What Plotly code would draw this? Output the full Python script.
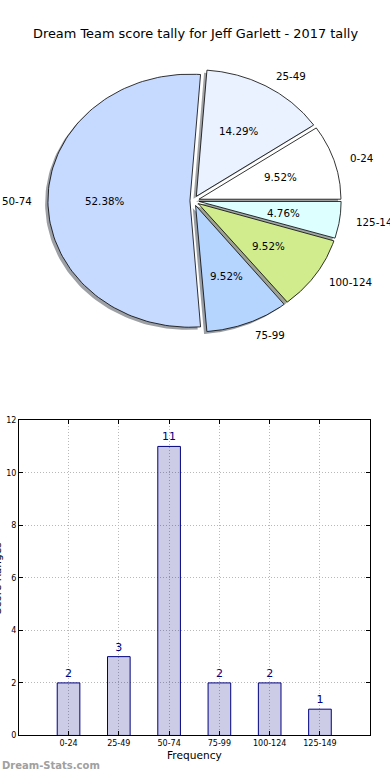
import numpy as np
import plotly.graph_objects as go

# ---------------- data ----------------
categories = ["0-24", "25-49", "50-74", "75-99", "100-124", "125-149"]
counts = [2, 3, 11, 2, 2, 1]
pie_colors = ["#FFFFFF", "#EAF1FF", "#C6D9FF", "#B5D5FF", "#D0EC8C", "#DDFFFF"]
y_ticks = [0, 2, 4, 6, 8, 10, 12]
title_text = "Dream Team score tally for Jeff Garlett - 2017 tally"

# ---------------- style constants ----------------
W, H = 390, 780
FONT = "DejaVu Sans"
explode = [0.04, 0.04, 0.025, 0.04, 0.04, 0.04]
RX, RY = 142.0, 128.0          # pie radius in px (elliptical, as in source)
CXP, CYP = 193.5, 199.0        # pie centre in px
PIE_H = 390.0                  # pie panel height in px

fig = go.Figure()

# ---------------- pie (drawn as filled wedges) ----------------
total = float(sum(counts))
fracs = [c / total for c in counts]
cum = np.concatenate([[0.0], np.cumsum(fracs)])


def rgba_shadow(hexcol):
    h = hexcol.lstrip("#")
    r, g, b = (int(h[i:i + 2], 16) for i in (0, 2, 4))
    return "rgba(%d,%d,%d,0.5)" % (r * 0.3, g * 0.3, b * 0.3)


wedges = []
for i, f in enumerate(fracs):
    t1, t2 = cum[i] * 2 * np.pi, cum[i + 1] * 2 * np.pi
    tm = 0.5 * (t1 + t2)
    ex, ey = explode[i] * np.cos(tm), explode[i] * np.sin(tm)
    arc = np.linspace(t1, t2, 120)
    xs = np.concatenate([[ex], ex + np.cos(arc), [ex]])
    ys = np.concatenate([[ey], ey + np.sin(arc), [ey]])
    wedges.append((xs, ys, ex, ey, tm))

# shadows first
for i, (xs, ys, ex, ey, tm) in enumerate(wedges):
    fig.add_trace(go.Scatter(x=xs - 0.02, y=ys - 0.02, fill="toself", mode="lines",
                             line=dict(width=0), fillcolor=rgba_shadow(pie_colors[i]),
                             hoverinfo="skip", showlegend=False, xaxis="x2", yaxis="y2"))
# wedges
for i, (xs, ys, ex, ey, tm) in enumerate(wedges):
    fig.add_trace(go.Scatter(x=xs, y=ys, fill="toself", mode="lines",
                             line=dict(width=0.8, color="#000000"), fillcolor=pie_colors[i],
                             name=categories[i], hoverinfo="name", showlegend=False,
                             xaxis="x2", yaxis="y2"))

annotations = []
for i, (xs, ys, ex, ey, tm) in enumerate(wedges):
    c, s = np.cos(tm), np.sin(tm)
    # percentage
    annotations.append(dict(x=ex + 0.6 * c, y=ey + 0.6 * s, xref="x2", yref="y2",
                            text="%.2f%%" % (fracs[i] * 100), showarrow=False,
                            xanchor="center", yanchor="middle",
                            font=dict(family=FONT, size=10.3, color="#000000")))
    # label
    lx, ly = ex + 1.1 * c, ey + 1.1 * s
    annotations.append(dict(x=lx, y=ly, xref="x2", yref="y2", text=categories[i],
                            showarrow=False, xanchor="left" if lx > 0 else "right",
                            yanchor="middle",
                            font=dict(family=FONT, size=10.3, color="#000000")))

# ---------------- bar chart ----------------
fig.add_trace(go.Bar(x=categories, y=counts, width=0.45,
                     marker=dict(color="rgba(0,0,128,0.2)", line=dict(color="#000080", width=1)),
                     text=[str(v) for v in counts], textposition="outside",
                     constraintext="none", cliponaxis=False,
                     textfont=dict(family=FONT, size=11, color="#000080"),
                     showlegend=False, xaxis="x", yaxis="y"))

annotations += [
    dict(x=0.5, y=1 - 30 / H, xref="paper", yref="paper", text=title_text, showarrow=False,
         xanchor="center", yanchor="middle", font=dict(family=FONT, size=12.9, color="#000000")),
    dict(x=194.5 / W, y=(H - 760) / H, xref="paper", yref="paper", text="Frequency",
         showarrow=False, xanchor="center", yanchor="middle",
         font=dict(family=FONT, size=10.6, color="#000000")),
    dict(x=-3 / W, y=(H - 581) / H, xref="paper", yref="paper", text="Score Ranges",
         showarrow=False, xanchor="center", yanchor="middle", textangle=-90,
         font=dict(family=FONT, size=10.6, color="#000000")),
    dict(x=0, y=(H - 770) / H, xref="paper", yref="paper", text="<b>Dream-Stats.com</b>",
         showarrow=False, xanchor="left", yanchor="middle",
         font=dict(family=FONT, size=10, color="#A0A0A0")),
]

axis_common = dict(showline=True, linecolor="#000000", linewidth=1, mirror="ticks",
                   ticks="inside", ticklen=4, tickcolor="#000000",
                   showgrid=True, gridcolor="#B8B8B8", griddash="1px,2px", gridwidth=1,
                   zeroline=False, tickfont=dict(family=FONT, size=8, color="#000000"),
                   fixedrange=True)

fig.update_layout(
    width=W, height=H,
    margin=dict(l=0, r=0, t=0, b=0),
    paper_bgcolor="#FFFFFF", plot_bgcolor="#FFFFFF",
    font=dict(family=FONT, color="#000000"),
    showlegend=False,
    xaxis=dict(domain=[19 / W, 370 / W], anchor="y", type="category",
               range=[-0.985, 5.995], **axis_common),
    yaxis=dict(domain=[(H - 740) / H, (H - 421) / H], anchor="x", range=[0, 12],
               tickvals=y_ticks, ticktext=[str(v) for v in y_ticks], **axis_common),
    xaxis2=dict(domain=[0, 1], anchor="y2", range=[-CXP / RX, (W - CXP) / RX],
                visible=False, fixedrange=True),
    yaxis2=dict(domain=[1 - PIE_H / H, 1], anchor="x2",
                range=[-(PIE_H - CYP) / RY, CYP / RY], visible=False, fixedrange=True),
    annotations=annotations,
)

fig.write_html("out.html", config={"displayModeBar": False},
               post_script="document.body.style.margin='0';document.body.style.overflow='hidden';")
